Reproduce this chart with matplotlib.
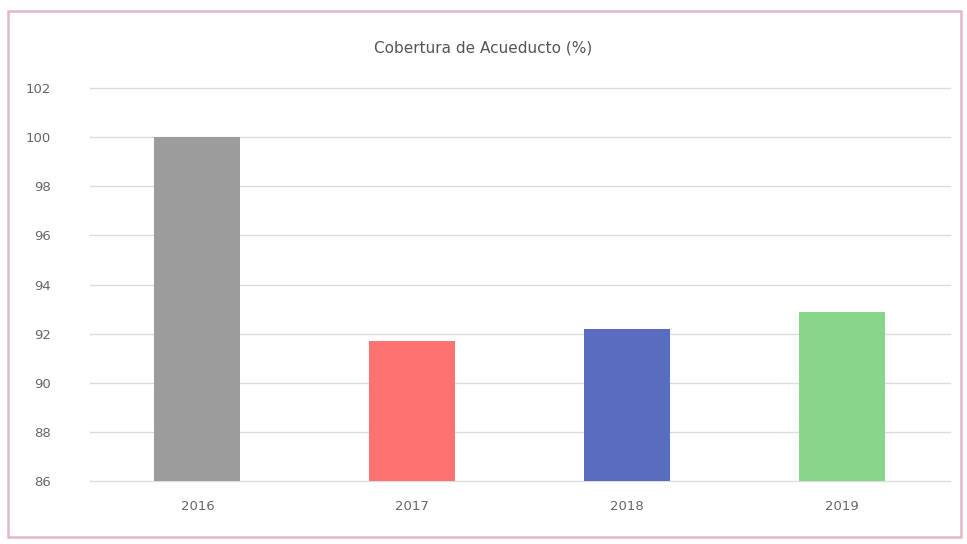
import matplotlib.pyplot as plt
from matplotlib.patches import Rectangle

years = ["2016", "2017", "2018", "2019"]
coverage = [100.0, 91.7, 92.2, 92.9]
bar_colors = ["#9c9c9c", "#ff7272", "#5a6cc0", "#8ad58c"]
y_ticks = [86, 88, 90, 92, 94, 96, 98, 100, 102]

fig = plt.figure(figsize=(9.67, 5.44), dpi=100)
ax = fig.add_axes([0.093, 0.116, 0.889, 0.722])

# bars start at the axis floor (86), like the Excel chart
ax.bar(years, [v - 86 for v in coverage], bottom=86, width=0.4,
       color=bar_colors, zorder=3)

ax.set_ylim(86, 102)
ax.set_yticks(y_ticks)
ax.set_xlim(-0.5, 3.5)
ax.grid(axis="y", color="#dcdcdc", linewidth=1, zorder=0)
for line in ax.get_ygridlines():
    line.set_clip_on(False)
for s in ax.spines.values():
    s.set_visible(False)
ax.tick_params(length=0, colors="#666666", labelsize=9.5)
ax.tick_params(axis="y", pad=28)
ax.tick_params(axis="x", pad=14)

fig.text(0.5, 0.912, "Cobertura de Acueducto (%)", ha="center", va="center",
         fontsize=11, color="#555555")

# pink frame of the pasted chart
fig.patches.append(Rectangle((0.008, 0.012), 0.986, 0.968, transform=fig.transFigure,
                             fill=False, edgecolor="#e2b6cf", linewidth=1.8))

fig.savefig("out.png", dpi=100)
